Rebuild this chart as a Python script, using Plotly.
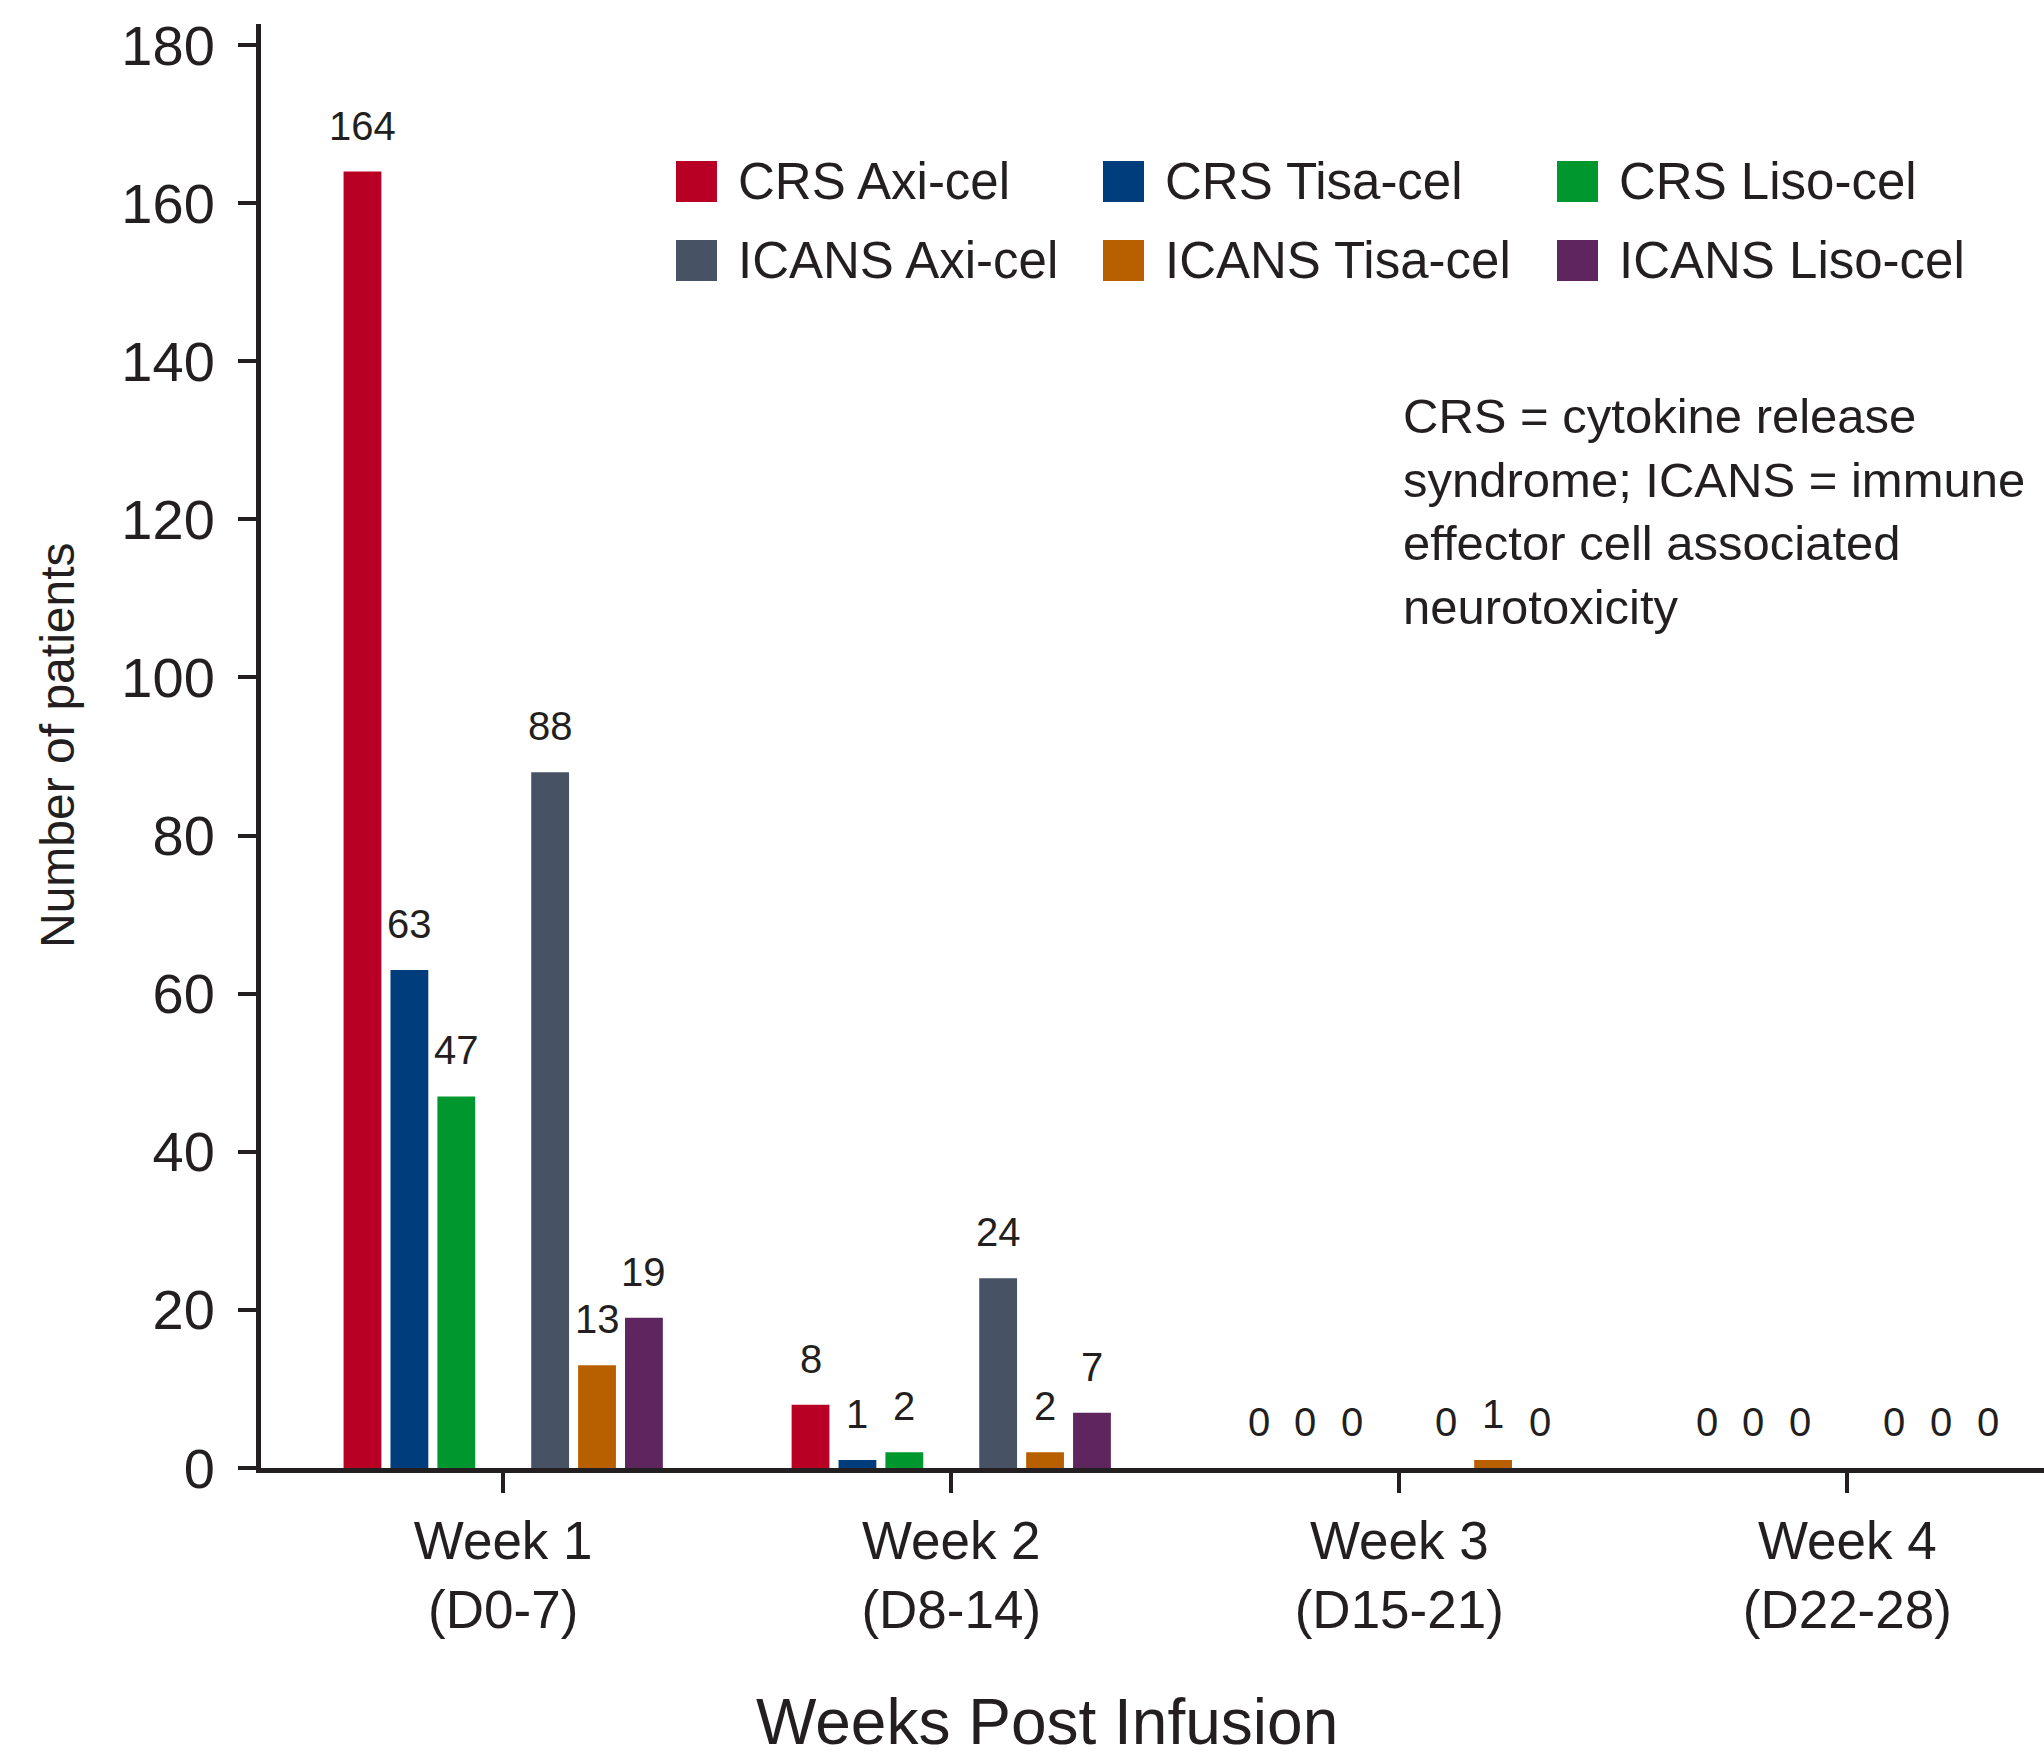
import plotly.graph_objects as go

# ---------------- data ----------------
week_labels = ["Week 1<br>(D0-7)", "Week 2<br>(D8-14)", "Week 3<br>(D15-21)", "Week 4<br>(D22-28)"]
series_names = ["CRS Axi-cel", "CRS Tisa-cel", "CRS Liso-cel",
                "ICANS Axi-cel", "ICANS Tisa-cel", "ICANS Liso-cel"]
crs_axi = [164, 8, 0, 0]
crs_tisa = [63, 1, 0, 0]
crs_liso = [47, 2, 0, 0]
icans_axi = [88, 24, 0, 0]
icans_tisa = [13, 2, 1, 0]
icans_liso = [19, 7, 0, 0]
y_tick_values = [0, 20, 40, 60, 80, 100, 120, 140, 160, 180]
y_axis_title = "Number of patients"
x_axis_title = "Weeks Post Infusion"
note_text = ("CRS = cytokine release<br>syndrome; ICANS = immune<br>"
             "effector cell associated<br>neurotoxicity")

series_values = [crs_axi, crs_tisa, crs_liso, icans_axi, icans_tisa, icans_liso]
series_colors = ["#B80024", "#003D7C", "#00982E", "#475264", "#B86000", "#5E255E"]
series_slots = [0, 1, 2, 4, 5, 6]          # slot 3 is the empty middle slot

# ---------------- layout geometry ----------------
W, H = 2044, 1751
ML, MR, MT, MB = 261, 0, 24, 283
PW, PH = W - ML - MR, H - MT - MB
TXT = "#231F20"
FONT = "Liberation Sans, Arial, Helvetica, sans-serif"

def px_x(px):
    return (px - ML) / PW

def px_y(py):
    return (H - MB - py) / PH

SLOT = 0.1047      # category units per bar slot
BAR_W = 0.0844     # bar width in category units

fig = go.Figure()
x_idx = list(range(len(week_labels)))
for name, vals, col, slot in zip(series_names, series_values, series_colors, series_slots):
    centre = (slot - 3) * SLOT
    fig.add_trace(go.Bar(
        x=x_idx, y=vals, name=name,
        width=BAR_W, offset=centre - BAR_W / 2,
        marker=dict(color=col, line=dict(width=0)),
        showlegend=False,
    ))

annotations = []
# value labels above each bar
for vals, slot in zip(series_values, series_slots):
    centre = (slot - 3) * SLOT
    for i, v in enumerate(vals):
        annotations.append(dict(
            x=i + centre, y=v, xref="x", yref="y", text=str(v),
            showarrow=False, yanchor="bottom", xanchor="center", yshift=22,
            font=dict(family=FONT, size=40, color=TXT),
        ))

# manual legend (two rows x three columns)
legend_cols_px = [676, 1103, 1557]
legend_rows_px = [161, 240]
legend_text_dx = 60
SW = 41
for k, (name, col) in enumerate(zip(series_names, series_colors)):
    r, c = divmod(k, 3)
    x0 = legend_cols_px[c]
    y0 = legend_rows_px[r]
    fig.add_shape(type="rect", xref="paper", yref="paper",
                  x0=px_x(x0), x1=px_x(x0 + SW), y0=px_y(y0 + SW), y1=px_y(y0),
                  fillcolor=col, line=dict(width=0), layer="above")
    annotations.append(dict(
        x=px_x(x0 + legend_text_dx), y=px_y(y0 + SW / 2), xref="paper", yref="paper",
        text=name, showarrow=False, xanchor="left", yanchor="middle",
        font=dict(family=FONT, size=51, color=TXT),
    ))

# abbreviation note
annotations.append(dict(
    x=px_x(1401), y=px_y(387), xref="paper", yref="paper", text=note_text,
    showarrow=False, xanchor="left", yanchor="top", align="left",
    font=dict(family=FONT, size=49, color=TXT),
))

# axis titles
annotations.append(dict(
    x=px_x(1047), y=0, xref="paper", yref="paper", text=x_axis_title,
    showarrow=False, xanchor="center", yanchor="top", yshift=-216,
    font=dict(family=FONT, size=64, color=TXT),
))
annotations.append(dict(
    x=px_x(58), y=px_y(745), xref="paper", yref="paper", text=y_axis_title,
    showarrow=False, xanchor="center", yanchor="middle", textangle=-90,
    font=dict(family=FONT, size=48, color=TXT),
))

fig.update_layout(
    width=W, height=H,
    margin=dict(l=ML, r=MR, t=MT, b=MB, pad=0),
    paper_bgcolor="white", plot_bgcolor="white",
    barmode="overlay",
    showlegend=False,
    font=dict(family=FONT, color=TXT),
    annotations=annotations,
    xaxis=dict(
        range=[-0.5406, 3.439], tickmode="array", tickvals=x_idx, ticktext=week_labels,
        showgrid=False, zeroline=False, showline=True, linewidth=5, linecolor=TXT,
        ticks="outside", ticklen=20, tickwidth=4, tickcolor=TXT,
        tickfont=dict(family=FONT, size=53, color=TXT), ticklabelstandoff=2,
    ),
    yaxis=dict(
        range=[0, 182.66], tickmode="array", tickvals=y_tick_values,
        showgrid=False, zeroline=False, showline=True, linewidth=5, linecolor=TXT,
        ticks="outside", ticklen=18, tickwidth=4, tickcolor=TXT,
        tickfont=dict(family=FONT, size=56, color=TXT), ticklabelstandoff=12,
    ),
)

fig.write_html("out.html", config={"displayModeBar": False},
               post_script="document.body.style.margin='0';")
